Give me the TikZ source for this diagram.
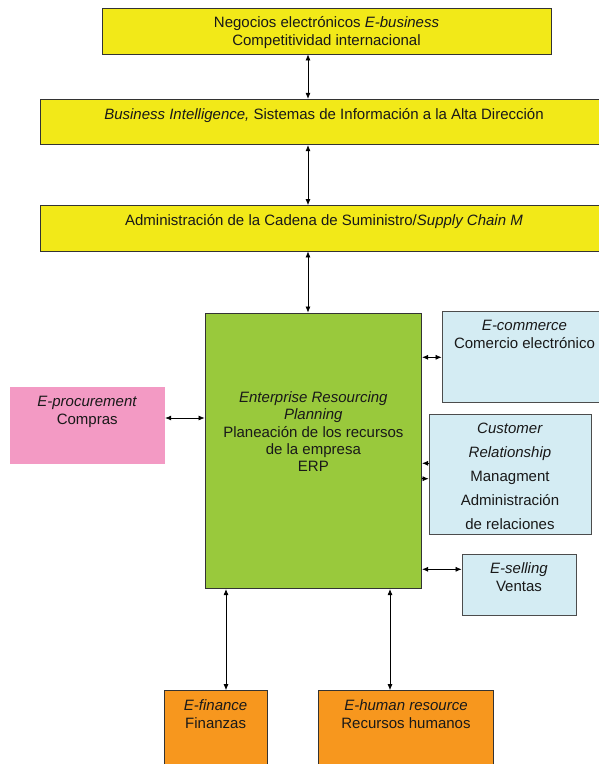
\documentclass[tikz,border=0pt]{standalone}
\usepackage{fontspec}
\setmainfont{Liberation Sans}
\usepackage{tikz}
\usetikzlibrary{arrows.meta, positioning}
\definecolor{ebyellow}{HTML}{F2E918}
\definecolor{erpgreen}{HTML}{99C93C}
\definecolor{procpink}{HTML}{F39AC4}
\definecolor{custblue}{HTML}{D4ECF3}
\definecolor{finorange}{HTML}{F7971E}
\tikzstyle{box} = [rectangle, draw=black!80, line width=0.8pt, inner sep=0pt]
\tikzstyle{levelbox} = [box, fill=ebyellow]
\tikzstyle{erpbox} = [box, fill=erpgreen]
\tikzstyle{salebox} = [box, fill=custblue, draw=black!70]
\tikzstyle{buybox} = [rectangle, fill=procpink, inner sep=0pt]
\tikzstyle{backbox} = [box, fill=finorange]
\tikzstyle{txt} = [align=center, inner sep=0pt, text=black!90,
    font=\fontsize{15}{18}\selectfont, execute at begin node=\strut]
\tikzstyle{line} = [draw, line width=0.7pt, {Latex[length=6pt,width=5pt]}-{Latex[length=6pt,width=5pt]}]
\tikzstyle{oneway} = [draw, line width=0.7pt, -{Latex[length=6pt,width=5pt]}]
\begin{document}
\begin{tikzpicture}[x=1pt, y=-1pt]
      \useasboundingbox (0,0) rectangle (599,764);
      \clip (0,0) rectangle (599,764);
      % Upper levels
      \node [levelbox, minimum width=449pt, minimum height=45.5pt] (ebusiness) at (326.5,31.25) {};
      \node [levelbox, minimum width=568pt, minimum height=45.5pt] (bi) at (324,122) {};
      \node [levelbox, minimum width=568pt, minimum height=45.5pt] (scm) at (324,228.25) {};
      \node [txt, below=8.5pt of ebusiness.north] (ebusiness-text) {Negocios electrónicos \textit{E-business}\\Competitividad internacional};
      \node [txt, below=7.5pt of bi.north] (bi-text) {\textit{Business Intelligence,} Sistemas de Información a la Alta Dirección};
      \node [txt, below=7.5pt of scm.north] (scm-text) {Administración de la Cadena de Suministro/\textit{Supply Chain M}};
      % ERP and modules
      \node [erpbox, minimum width=216.7pt, minimum height=275.7pt] (erp) at (313.35,450.85) {};
      \node [buybox, minimum width=155.5pt, minimum height=76.4pt] (procurement) at (87.25,425.5) {};
      \node [salebox, minimum width=165pt, minimum height=91pt] (commerce) at (524.5,357.2) {};
      \node [salebox, minimum width=162pt, minimum height=120.3pt] (crm) at (510,474.15) {};
      \node [salebox, minimum width=114pt, minimum height=60.7pt] (selling) at (519,584.65) {};
      \node [backbox, minimum width=103.3pt, minimum height=109.5pt] (finance) at (215.65,745.25) {};
      \node [backbox, minimum width=174.6pt, minimum height=109.5pt] (human) at (406,745.25) {};
      \node [txt, font=\fontsize{15}{17.25}\selectfont, below=79pt of erp.north] (erp-text) {\textit{Enterprise Resourcing}\\\textit{Planning}\\Planeación de los recursos\\de la empresa\\ERP};
      \node [txt, below=9pt of procurement.north] (procurement-text) {\textit{E-procurement}\\Compras};
      \node [txt, below=9pt of commerce.north] (commerce-text) {\textit{E-commerce}\\Comercio electrónico};
      \node [txt, font=\fontsize{15}{24}\selectfont, below=9.5pt of crm.north] (crm-text) {\textit{Customer}\\\textit{Relationship}\\Managment\\Administración\\de relaciones};
      \node [txt, below=9pt of selling.north] (selling-text) {\textit{E-selling}\\Ventas};
      \node [txt, below=9pt of finance.north] (finance-text) {\textit{E-finance}\\Finanzas};
      \node [txt, below=9pt of human.north] (human-text) {\textit{E-human resource}\\Recursos humanos};
      % Draw edges
      \coordinate (spine) at (308,0);
      \coordinate (buyrow) at (0,418);
      \coordinate (commrow) at (0,357.3);
      \coordinate (crmin) at (0,463.3);
      \coordinate (crmout) at (0,478.7);
      \coordinate (sellrow) at (0,569.3);
      \coordinate (fincol) at (226,0);
      \coordinate (humcol) at (390,0);
      \path [line] (ebusiness.south -| spine) -- (bi.north -| spine);
      \path [line] (bi.south -| spine) -- (scm.north -| spine);
      \path [line] (scm.south -| spine) -- (erp.north -| spine);
      \path [line] (procurement.east |- buyrow) -- (erp.west |- buyrow);
      \path [line] (erp.east |- commrow) -- (commerce.west |- commrow);
      \path [oneway] (crm.west |- crmin) -- (erp.east |- crmin);
      \path [oneway] (erp.east |- crmout) -- (crm.west |- crmout);
      \path [line] (erp.east |- sellrow) -- (selling.west |- sellrow);
      \path [line] (erp.south -| fincol) -- (finance.north -| fincol);
      \path [line] (erp.south -| humcol) -- (human.north -| humcol);
\end{tikzpicture}
\end{document}
